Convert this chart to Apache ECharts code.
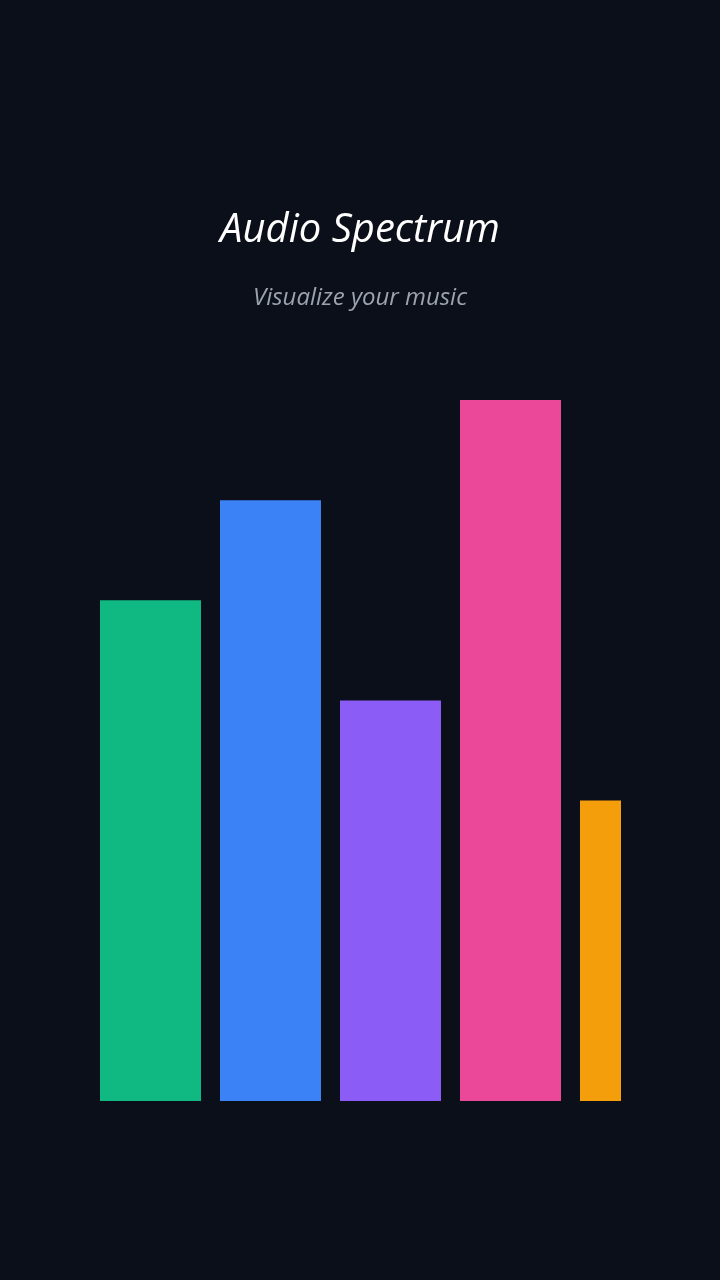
<!DOCTYPE html>
<html>
<head>
<meta charset="utf-8">
<style>
html,body{margin:0;padding:0;background:#0b0f19;}
#chart{width:720px;height:1280px;}
</style>
<script src="https://cdn.jsdelivr.net/npm/echarts@6/dist/echarts.min.js"></script>
</head>
<body>
<div id="chart"></div>
<script>
const categories = ['Bass', 'Low Mid', 'Mid', 'High Mid', 'Treble'];
const values = [5, 6, 4, 7, 3];
const colors = ['#10b981', '#3b82f6', '#8b5cf6', '#ec4899', '#f59e0b'];
const titleText = 'Audio Spectrum';
const subtitleText = 'Visualize your music';

const chart = echarts.init(document.getElementById('chart'), null, {renderer: 'canvas'});
const barSpan = 101 / 120;

chart.setOption({
  backgroundColor: '#0b0f19',
  animation: false,
  title: [
    {text: titleText, left: 'center', top: 206,
     textStyle: {color: '#ffffff', fontFamily: 'Open Sans', fontStyle: 'italic', fontWeight: 'normal', fontSize: 40}},
    {text: subtitleText, left: 'center', top: 281,
     textStyle: {color: '#9ca3af', fontFamily: 'Open Sans', fontStyle: 'italic', fontWeight: 'normal', fontSize: 24}}
  ],
  grid: {left: 100, right: 99, top: 400, bottom: 179, containLabel: false},
  xAxis: {type: 'value', min: 0, max: 521 / 120, show: false},
  yAxis: {type: 'value', min: 0, max: 7, show: false},
  series: [{
    type: 'custom',
    clip: true,
    data: values.map((v, i) => [i, v, categories[i]]),
    renderItem: function (params, api) {
      const i = api.value(0);
      const start = api.coord([i, api.value(1)]);
      const end = api.coord([i, 0]);
      const w = api.size([barSpan, 0])[0];
      const rect = echarts.graphic.clipRectByRect(
        {x: start[0], y: start[1], width: w, height: end[1] - start[1]},
        {x: params.coordSys.x, y: params.coordSys.y, width: params.coordSys.width, height: params.coordSys.height}
      );
      return rect && {type: 'rect', shape: rect, style: {fill: colors[params.dataIndex]}};
    }
  }]
});
</script>
</body>
</html>
